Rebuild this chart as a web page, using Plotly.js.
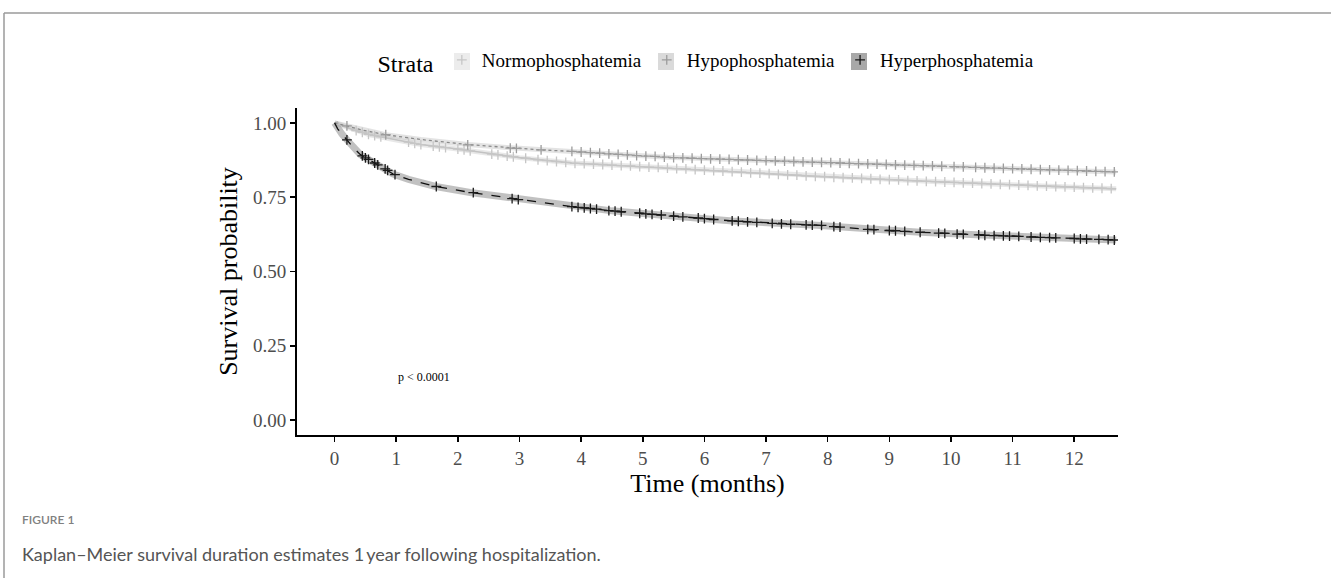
<!DOCTYPE html>
<html>
<head>
<meta charset="utf-8">
<script src="https://cdn.plot.ly/plotly-3.0.1.min.js"></script>
<style>
html,body{margin:0;padding:0;background:#fff;}
#chart{width:1331px;height:578px;}
</style>
</head>
<body>
<div id="chart"></div>
<script>
// ---------------- DATA ----------------
const groups = ["Normophosphatemia", "Hypophosphatemia", "Hyperphosphatemia"];
const xTicks = [0,1,2,3,4,5,6,7,8,9,10,11,12];
const yTicks = [0, 0.25, 0.5, 0.75, 1];
const yTickText = ["0.00", "0.25", "0.50", "0.75", "1.00"];

// Kaplan-Meier curves (time in months, survival probability)
const normoTime = [0, 0.3, 0.57, 0.96, 1.4, 1.93, 2.58, 3.0, 3.85, 5.4, 7.82, 9.87, 12.68];
const normoSurv = [1.0, 0.977, 0.960, 0.944, 0.927, 0.914, 0.894, 0.883, 0.865, 0.848, 0.820, 0.801, 0.778];

const hypoTime = [0, 0.2, 0.42, 0.83, 1.4, 2.16, 2.86, 3.35, 3.85, 5.4, 7.82, 9.87, 12.68];
const hypoSurv = [1.0, 0.99, 0.977, 0.960, 0.944, 0.927, 0.916, 0.909, 0.904, 0.884, 0.867, 0.854, 0.835];

const hyperTime = [0, 0.05, 0.12, 0.22, 0.32, 0.42, 0.6, 0.79, 0.95, 1.2, 1.64, 2.2, 2.69, 3.0, 3.4, 3.82, 4.5, 5.28, 6.46, 7.82, 8.63, 9.5, 10.5, 11.5, 12.68];
const hyperSurv = [1.0, 0.98, 0.962, 0.938, 0.913, 0.893, 0.871, 0.848, 0.828, 0.810, 0.786, 0.766, 0.752, 0.741, 0.730, 0.719, 0.704, 0.690, 0.670, 0.656, 0.642, 0.632, 0.623, 0.615, 0.606];

// Censoring marks (+)
const normoCensT = [0.35,0.45,0.55,0.65,0.75,1.2,1.3,1.4,1.6,1.7,1.8,2.0,2.1,2.2,2.55,2.65,2.8,2.9,3.1,3.3,
 3.45,3.6,3.75,3.9,4.05,4.2,4.35,4.5,4.65,4.8,4.95,5.1,5.25,5.4,5.55,5.7,5.85,6.0,6.15,6.3,6.45,6.6,6.75,6.9,
 7.05,7.2,7.35,7.5,7.65,7.8,7.95,8.1,8.25,8.4,8.55,8.7,8.85,9.0,9.15,9.3,9.45,9.6,9.75,9.9,10.05,10.2,10.35,
 10.5,10.65,10.8,10.95,11.1,11.25,11.4,11.55,11.7,11.85,12.0,12.15,12.3,12.45,12.6];
const normoCensS = [0.974,0.968,0.961,0.957,0.953,0.935,0.931,0.927,0.922,0.919,0.917,0.912,0.909,0.906,0.895,0.892,0.888,0.886,0.881,0.876,
 0.873,0.870,0.867,0.864,0.863,0.861,0.860,0.858,0.856,0.855,0.853,0.851,0.850,0.848,0.846,0.845,0.843,0.841,0.839,0.838,0.836,0.834,0.832,0.831,
 0.829,0.827,0.825,0.824,0.822,0.820,0.819,0.817,0.816,0.815,0.813,0.812,0.810,0.809,0.808,0.806,0.805,0.803,0.802,0.801,0.800,0.798,0.797,
 0.796,0.795,0.793,0.792,0.791,0.790,0.788,0.787,0.786,0.785,0.784,0.782,0.781,0.780,0.779];

const hypoCensT = [0.2,0.83,2.16,2.85,2.95,3.35,
 3.85,4.0,4.15,4.3,4.45,4.6,4.75,4.9,5.05,5.2,5.35,5.5,5.65,5.8,5.95,6.1,6.25,6.4,6.55,6.7,6.85,7.0,7.15,7.3,
 7.45,7.6,7.75,7.9,8.05,8.2,8.35,8.5,8.65,8.8,8.95,9.1,9.25,9.4,9.55,9.7,9.85,10.05,10.2,10.4,10.55,10.7,
 10.85,11.0,11.15,11.3,11.45,11.6,11.75,11.9,12.05,12.2,12.35,12.5,12.65];
const hypoCensS = [0.99,0.960,0.926,0.915,0.914,0.909,
 0.904,0.902,0.900,0.898,0.896,0.894,0.892,0.890,0.888,0.887,0.885,0.883,0.882,0.881,0.880,0.879,0.878,0.877,0.876,0.875,0.874,0.873,0.872,0.871,
 0.870,0.869,0.868,0.867,0.866,0.865,0.864,0.863,0.862,0.861,0.860,0.859,0.858,0.857,0.856,0.855,0.854,0.853,0.852,0.850,0.849,0.848,
 0.847,0.846,0.845,0.844,0.843,0.842,0.841,0.840,0.839,0.838,0.837,0.836,0.835];

const hyperCensT = [0.2,0.45,0.5,0.55,0.65,0.7,0.82,0.86,0.98,1.65,2.25,2.88,2.98,3.85,3.95,4.05,4.15,4.25,4.45,4.55,4.65,
 4.95,5.05,5.15,5.3,5.5,5.65,5.9,6.0,6.15,6.45,6.55,6.7,6.85,7.1,7.25,7.4,7.65,7.75,7.9,8.1,8.2,8.65,8.75,9.0,9.1,
 9.25,9.5,9.8,9.9,10.1,10.2,10.45,10.55,10.7,10.85,10.95,11.1,11.3,11.45,11.6,11.7,12.0,12.1,12.2,12.4,12.55,12.65];
const hyperCensS = [0.943,0.889,0.882,0.877,0.865,0.859,0.845,0.840,0.826,0.786,0.765,0.745,0.742,0.718,0.716,0.714,0.712,0.710,0.705,0.703,0.701,
 0.696,0.694,0.692,0.690,0.686,0.684,0.680,0.678,0.675,0.670,0.669,0.667,0.665,0.662,0.660,0.659,0.657,0.656,0.655,0.651,0.649,0.642,0.641,0.638,0.637,
 0.635,0.632,0.629,0.628,0.626,0.625,0.623,0.622,0.621,0.620,0.619,0.618,0.616,0.615,0.614,0.613,0.611,0.610,0.609,0.608,0.607,0.606];

const pText = "p < 0.0001";
const legendTitle = "Strata";
const xTitle = "Time (months)";
const yTitle = "Survival probability";
const figLabel = "FIGURE 1";
const caption = "Kaplan\u2013Meier survival duration estimates 1\u2009year following hospitalization.";

// ---------------- STYLE / LAYOUT ----------------
const W = 1331, H = 578;
const M = {l: 297, r: 213, t: 108, b: 143};
const PW = W - M.l - M.r, PH = H - M.t - M.b;
const px = x => (x - M.l) / PW;          // pixel -> paper x
const py = y => (H - M.b - y) / PH;      // pixel -> paper y

const serif = "'Liberation Serif', 'Times New Roman', serif";
const sans = "Lato, 'Open Sans', 'Noto Sans', sans-serif";

const styles = [
  {line: '#c2c2c2', dash: 'solid', lw: 1.6, band: 'rgba(205,205,205,0.45)', bw: 5, cens: '#c6c6c6', key: '#ececec'},
  {line: '#8a8a8a', dash: 'dot',   lw: 1.3, band: 'rgba(175,175,175,0.35)', bw: 5, cens: '#9c9c9c', key: '#dadada'},
  {line: '#111111', dash: 'dash',  lw: 1.3, band: 'rgba(160,160,160,0.65)', bw: 7, cens: '#1a1a1a', key: '#a8a8a8'}
];
const curveT = [normoTime, hypoTime, hyperTime];
const curveS = [normoSurv, hypoSurv, hyperSurv];
const censT = [normoCensT, hypoCensT, hyperCensT];
const censS = [normoCensS, hypoCensS, hyperCensS];

const traces = [];
groups.forEach((g, i) => {
  traces.push({x: curveT[i], y: curveS[i], type: 'scatter', mode: 'lines', showlegend: false, hoverinfo: 'skip',
    line: {color: styles[i].band, width: styles[i].bw}});
});
groups.forEach((g, i) => {
  traces.push({x: curveT[i], y: curveS[i], type: 'scatter', mode: 'lines', showlegend: false, name: g,
    line: {color: styles[i].line, width: styles[i].lw, dash: styles[i].dash}});
});
groups.forEach((g, i) => {
  traces.push({x: censT[i], y: censS[i], type: 'scatter', mode: 'markers', name: g, showlegend: true,
    marker: {symbol: 'cross-thin', size: 7, color: styles[i].cens, line: {color: styles[i].cens, width: 1.3}}});
});

const axisCommon = {
  showgrid: false, zeroline: false, showline: true, linecolor: '#000', linewidth: 2,
  ticks: 'outside', ticklen: 5, tickwidth: 1.5, tickcolor: '#000',
  tickfont: {family: serif, size: 19, color: '#4d4d4d'}, fixedrange: true
};

// grey key boxes behind the legend symbols (legend drawn on top)
const keyCentersPx = [462, 666, 859];
const keyShapes = keyCentersPx.map((cx, i) => ({
  type: 'rect', xref: 'paper', yref: 'paper', layer: 'above',
  x0: px(cx - 8), x1: px(cx + 8), y0: py(70), y1: py(53),
  line: {width: 0}, fillcolor: styles[i].key
}));

const layout = {
  width: W, height: H,
  margin: M,
  paper_bgcolor: '#fff', plot_bgcolor: '#fff',
  font: {family: serif, color: '#000'},
  xaxis: Object.assign({}, axisCommon, {
    range: [-0.61, 12.71], tickvals: xTicks, ticktext: xTicks.map(String),
    title: {text: xTitle, font: {family: serif, size: 26, color: '#000'}, standoff: 4}
  }),
  yaxis: Object.assign({}, axisCommon, {
    range: [-0.05, 1.05], tickvals: yTicks, ticktext: yTickText,
    title: {text: yTitle, font: {family: serif, size: 26, color: '#000'}, standoff: 8}
  }),
  legend: {
    orientation: 'h', x: 0.5, xanchor: 'center', y: py(62), yanchor: 'middle',
    title: {text: legendTitle, font: {family: serif, size: 24, color: '#000'}, side: 'left'},
    font: {family: serif, size: 19, color: '#000'}, bgcolor: 'rgba(0,0,0,0)', itemwidth: 30
  },
  annotations: [
    {text: pText, xref: 'x', yref: 'y', x: 1.45, y: 0.145, showarrow: false,
      font: {family: serif, size: 12, color: '#000'}},
    {text: figLabel, xref: 'paper', yref: 'paper', x: px(20), y: py(519), xanchor: 'left', yanchor: 'middle',
      showarrow: false, font: {family: sans, size: 12, color: '#808080', weight: 600}},
    {text: caption, xref: 'paper', yref: 'paper', x: px(20), y: py(554), xanchor: 'left', yanchor: 'middle',
      showarrow: false, font: {family: sans, size: 18, color: '#555'}}
  ],
  shapes: [
    {type: 'line', xref: 'paper', yref: 'paper', x0: px(4), x1: px(W), y0: py(13), y1: py(13), line: {color: '#9a9a9a', width: 1.5}},
    {type: 'line', xref: 'paper', yref: 'paper', x0: px(4), x1: px(4), y0: py(13), y1: py(H), line: {color: '#9a9a9a', width: 1.5}}
  ].concat(keyShapes)
};

Plotly.newPlot('chart', traces, layout, {staticPlot: true, displayModeBar: false});
</script>
</body>
</html>
